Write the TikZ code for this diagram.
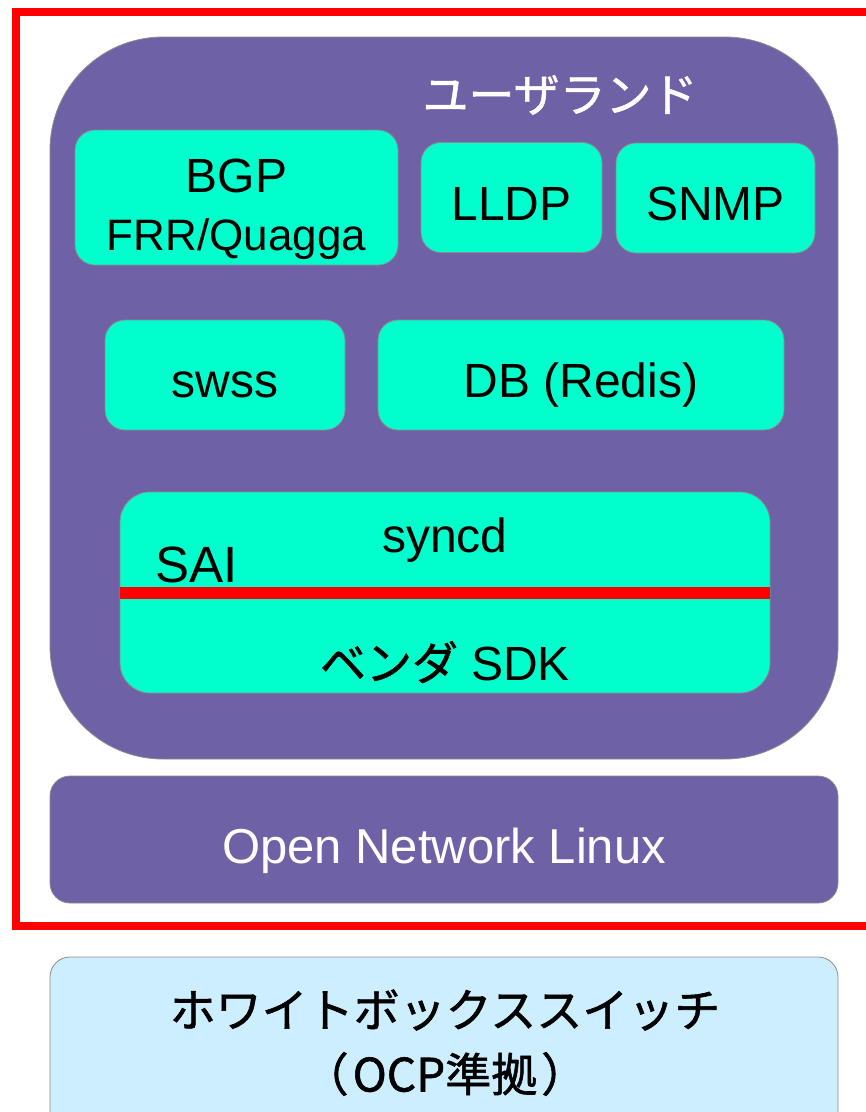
\documentclass[tikz,border=0pt]{standalone}
\usepackage{fontspec}
\setmainfont{Liberation Sans}
\newfontfamily\jp[FakeBold=1.2]{Noto Sans CJK JP}
\definecolor{sonicpurple}{RGB}{110,97,165}
\definecolor{sonicaqua}{RGB}{0,255,204}
\definecolor{boxblue}{RGB}{204,238,255}
\definecolor{boxedge}{RGB}{140,140,140}
\tikzset{
  layer/.style={draw=boxedge,line width=0.8pt,fill=sonicpurple,
    rounded corners=20pt,inner sep=0pt},
  app/.style={draw=boxedge,line width=0.8pt,fill=sonicaqua,
    rounded corners=20pt,inner sep=0pt},
  txt/.style={inner sep=0pt,font=\fontsize{48}{56}\selectfont},
  jptxt/.style={inner sep=0pt,font=\jp\fontsize{46}{54}\selectfont}
}
\begin{document}
\begin{tikzpicture}[x=1pt,y=-1pt]
      \useasboundingbox (0,0) rectangle (866,1112);
      % userland
      \node[layer,rounded corners=113pt,minimum width=788pt,
        minimum height=722pt] (user) at (444,398) {};
      \node[jptxt,text=white] (usertitle) at (560,95) {ユーザランド};
      \node[app,minimum width=323pt,minimum height=135pt]
        (bgp) at (236.5,197.5) {};
      \node[txt,anchor=base] (bgpname) at (236.5,192) {BGP};
      \node[txt,anchor=base,font=\fontsize{44}{52}\selectfont]
        (frr) at (236.5,250) {FRR/Quagga};
      \node[app,minimum width=181pt,minimum height=110pt]
        (lldp) at (511.5,197.5) {};
      \node[txt,anchor=base] (lldpname) at (511.5,220) {LLDP};
      \node[app,minimum width=199pt,minimum height=110pt]
        (snmp) at (715.5,198) {};
      \node[txt,anchor=base] (snmpname) at (715.5,220) {SNMP};
      \node[app,minimum width=240pt,minimum height=110pt]
        (swss) at (225,375) {};
      \node[txt,anchor=base] (swssname) at (225,397) {swss};
      \node[app,minimum width=406pt,minimum height=110pt]
        (db) at (581,375) {};
      \node[txt,anchor=base] (dbname) at (581,397) {DB (Redis)};
      % syncd / SAI / vendor SDK
      \node[app,rounded corners=30pt,minimum width=650pt,
        minimum height=201pt] (syncd) at (445,592.5) {};
      \draw[red,line width=12pt] (syncd.west) -- (syncd.east);
      \node[txt,anchor=base] (syncdname) at (445,552) {syncd};
      \node[txt,anchor=base west,font=\fontsize{51}{58}\selectfont]
        (sai) at (155,582) {SAI};
      \node[txt,anchor=base] (sdk) at (445,680)
        {{\jp\fontsize{46}{54}\selectfont ベンダ} SDK};
      % ONL
      \node[layer,minimum width=788pt,minimum height=127pt]
        (onl) at (444,839.5) {};
      \node[txt,anchor=base,text=white,font=\fontsize{49}{56}\selectfont]
        (onlname) at (444,863) {Open Network Linux};
      % frame
      \draw[red,line width=8pt] (15.5,12) rectangle (874,926);
      % hardware
      \node[layer,fill=boxblue,minimum width=788pt,minimum height=180pt]
        (hw) at (444,1047) {};
      \node[jptxt] (hwname) at (445,1010) {ホワイトボックススイッチ};
      \node[jptxt] (ocp) at (445,1074) {（\hspace{4pt}OCP準拠\hspace{4pt}）};
\end{tikzpicture}
\end{document}
